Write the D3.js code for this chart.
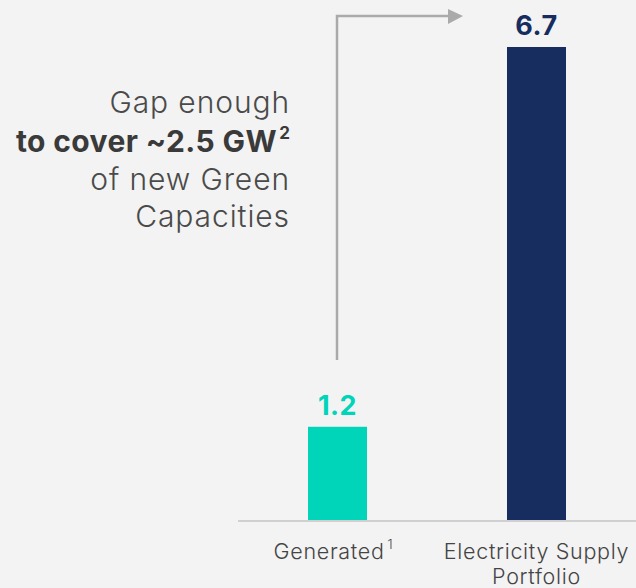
<!DOCTYPE html>
<html>
<head>
<meta charset="utf-8">
<script src="https://cdn.jsdelivr.net/npm/d3@7"></script>
<style>
  body { margin: 0; background: #f3f3f3; }
  svg { display: block; font-family: Inter, "Open Sans", sans-serif; }
</style>
</head>
<body>
<div id="chart"></div>
<script>
// data
let categories = ["Generated", "Electricity Supply Portfolio"];
let values = [1.2, 6.7];
let value_labels = ["1.2", "6.7"];
let bar_colors = ["#00d4b9", "#172d60"];
let note_lines = ["Gap enough", "to cover ~2.5 GW", "of new Green", "Capacities"];

let chart_width = 636;
let chart_height = 588;
let baseline = 520;

let svg = d3
  .select("#chart")
  .append("svg")
  .attr("width", chart_width)
  .attr("height", chart_height);

svg.append("rect").attr("width", chart_width).attr("height", chart_height).attr("fill", "#f3f3f3");

// scales
// bars are a little taller at the low end on the slide, small offset on domain
let y_scale = d3.scaleLinear().domain([-0.15, 6.7]).range([baseline, 47]);

let bw = 59;
let centers = [337.5, 536.5];

// baseline
svg
  .append("line")
  .attr("x1", 238)
  .attr("x2", chart_width)
  .attr("y1", baseline + 1)
  .attr("y2", baseline + 1)
  .attr("stroke", "#d0d0d0")
  .attr("stroke-width", 2);

// bars
svg
  .selectAll("rect.bar")
  .data(values)
  .enter()
  .append("rect")
  .attr("class", "bar")
  .attr("x", (d, i) => centers[i] - bw / 2)
  .attr("y", d => y_scale(d))
  .attr("width", bw)
  .attr("height", d => baseline - y_scale(d))
  .attr("fill", (d, i) => bar_colors[i]);

// value labels
svg
  .selectAll("text.val")
  .data(values)
  .enter()
  .append("text")
  .attr("class", "val")
  .attr("x", (d, i) => centers[i])
  .attr("y", d => y_scale(d) - 12)
  .attr("text-anchor", "middle")
  .attr("font-size", 27)
  .attr("font-weight", 700)
  .attr("letter-spacing", 0.5)
  .attr("fill", (d, i) => bar_colors[i])
  .text((d, i) => value_labels[i]);

// category labels
let cat = svg
  .append("g")
  .attr("font-size", 21.5)
  .attr("font-weight", 300)
  .attr("letter-spacing", 0.7)
  .attr("fill", "#444");
let g1 = cat.append("text").attr("x", centers[0] - 4).attr("y", 559).attr("text-anchor", "middle");
g1.append("tspan").text(categories[0]);
g1.append("tspan").attr("font-size", 13).attr("dy", -10).attr("dx", 3).text("1");
let g2 = cat.append("text").attr("x", centers[1]).attr("y", 559).attr("text-anchor", "middle");
g2.append("tspan").attr("x", centers[1]).text("Electricity Supply");
g2.append("tspan").attr("x", centers[1]).attr("dy", 24.5).text("Portfolio");

// gap arrow
svg
  .append("path")
  .attr("d", "M337,360 V16 H450")
  .attr("fill", "none")
  .attr("stroke", "#aaaaaa")
  .attr("stroke-width", 2.5);
svg
  .append("path")
  .attr("d", "M448,9 L463,16 L448,24 Z")
  .attr("fill", "#aaaaaa");

// annotation
let note = svg.append("g").attr("text-anchor", "end").attr("font-size", 30);
let ys = [113, 152, 190, 227];
note_lines.forEach((t, i) => {
  note
    .append("text")
    .attr("x", i == 1 ? 277 : 290)
    .attr("y", ys[i])
    .attr("font-weight", i == 1 ? 700 : 300)
    .attr("letter-spacing", i == 1 ? 0.4 : 0.9)
    .attr("fill", i == 1 ? "#3a3a3a" : "#4a4a4a")
    .text(t);
});
note
  .append("text")
  .attr("x", 290)
  .attr("y", 139)
  .attr("font-size", 17)
  .attr("font-weight", 700)
  .attr("fill", "#3a3a3a")
  .text("2");
</script>
</body>
</html>
